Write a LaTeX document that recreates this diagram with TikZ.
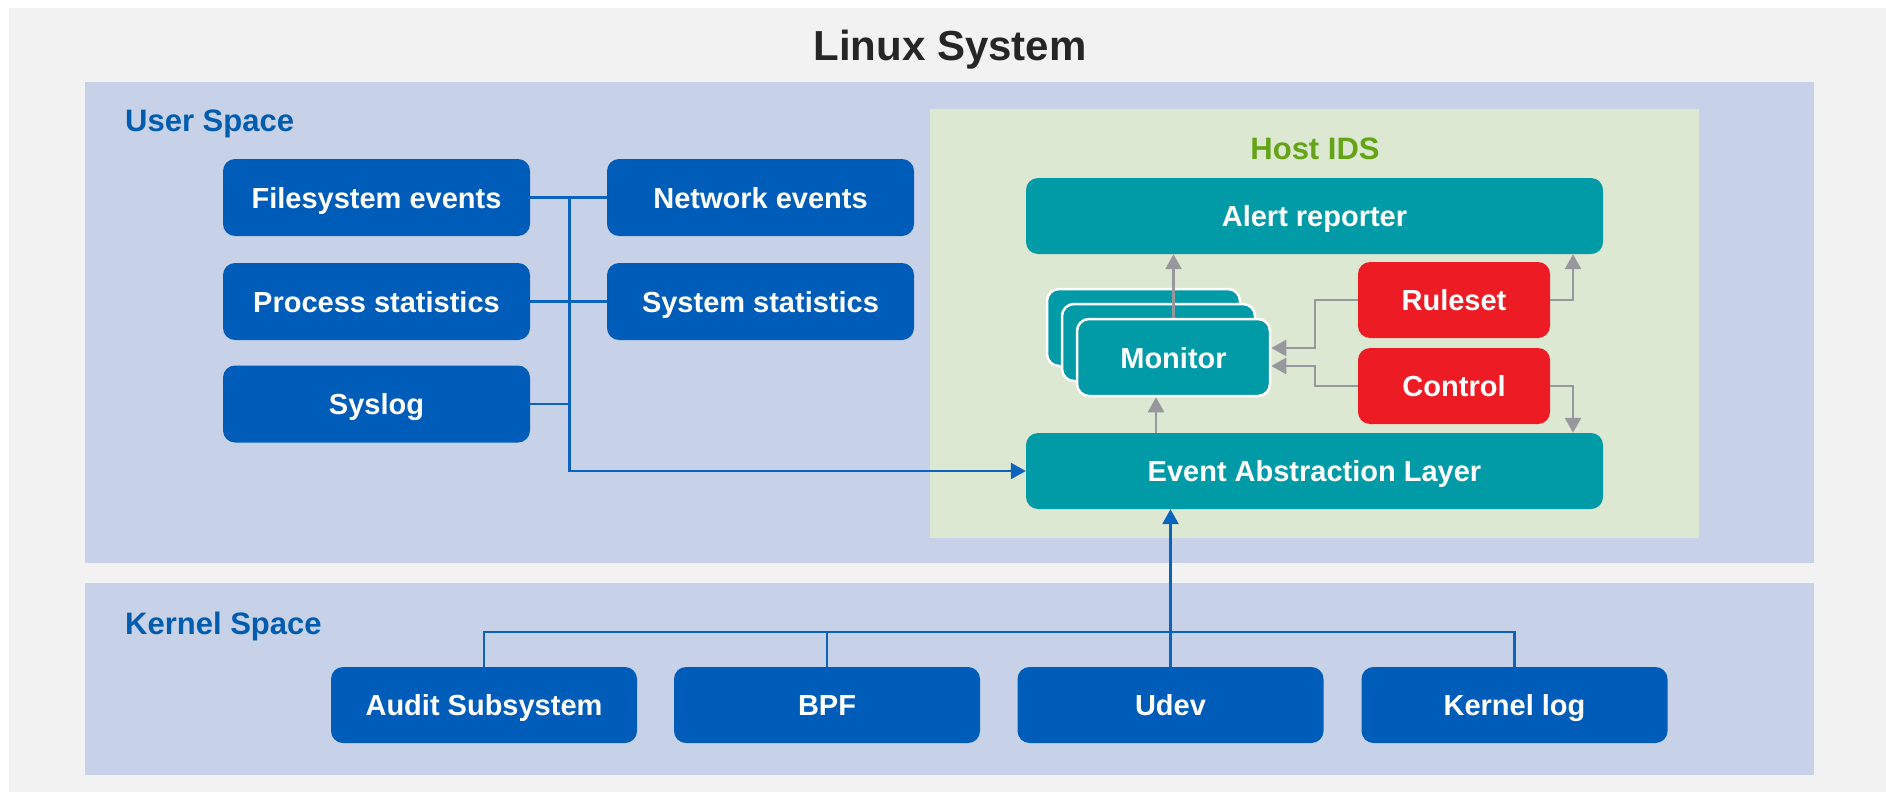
\documentclass[tikz,border=0pt]{standalone}
\usepackage{fontspec}
\setmainfont{Liberation Sans}
\usetikzlibrary{arrows.meta}
\definecolor{bggrey}{RGB}{242,242,242}
\definecolor{spaceblue}{RGB}{199,210,232}
\definecolor{idsgreen}{RGB}{221,232,210}
\definecolor{boxblue}{RGB}{0,92,185}
\definecolor{lineblue}{RGB}{10,100,190}
\definecolor{labelblue}{RGB}{0,92,175}
\definecolor{tealbox}{RGB}{0,155,166}
\definecolor{redbox}{RGB}{237,28,36}
\definecolor{arrowgrey}{RGB}{150,152,158}
\definecolor{titlegrey}{RGB}{38,38,38}
\definecolor{hostgreen}{RGB}{100,164,22}
\tikzset{
  boxbase/.style={rectangle, rounded corners=12pt, text=white, inner sep=0pt,
    text height=21pt, text depth=0pt,
    font=\fontsize{29}{34}\selectfont\bfseries},
  bluebox/.style={boxbase, fill=boxblue, minimum width=307pt, minimum height=77pt},
  kbox/.style={boxbase, fill=boxblue, minimum width=306pt, minimum height=76pt},
  tealwide/.style={boxbase, fill=tealbox, minimum width=577pt, minimum height=76pt},
  redsmall/.style={boxbase, fill=redbox, minimum width=192pt, minimum height=76pt},
  monbox/.style={boxbase, fill=tealbox, draw=white, line width=2.5pt, minimum width=193pt, minimum height=77pt},
  spacelabel/.style={anchor=base west, text=labelblue, inner sep=0pt,
    font=\fontsize{31}{36}\selectfont\bfseries},
  bline/.style={draw=lineblue, line width=2.5pt},
  barrow/.style={bline, -{Triangle[length=15pt,width=16pt]}},
  garrow/.style={draw=arrowgrey, line width=2.5pt, -{Triangle[length=15pt,width=16pt]}}
}
\begin{document}
\begin{tikzpicture}[x=1pt,y=-1pt]
\useasboundingbox (0,0) rectangle (1886,792);
\fill[white] (0,0) rectangle (1886,792);
\fill[bggrey] (9,8) rectangle (1886,792);
\fill[spaceblue] (85,82) rectangle (1814,563);
\fill[spaceblue] (85,583) rectangle (1814,775);
\fill[idsgreen] (930,109) rectangle (1699,538);

\node[anchor=base, text=titlegrey, inner sep=0pt, font=\fontsize{42}{48}\selectfont\bfseries] (title) at (950,60) {Linux System};
\node[spacelabel] (userlbl) at (125,131) {User Space};
\node[spacelabel] (kernlbl) at (125,634) {Kernel Space};
\node[anchor=base, text=hostgreen, inner sep=0pt, font=\fontsize{31}{36}\selectfont\bfseries] (hostlbl) at (1315,159) {Host IDS};

% user space sources
\node[bluebox] (fs) at (376.5,197.5) {Filesystem events};
\node[bluebox] (net) at (760.5,197.5) {Network events};
\node[bluebox] (proc) at (376.5,301.5) {Process statistics};
\node[bluebox] (sys) at (760.5,301.5) {System statistics};
\node[bluebox] (syslog) at (376.5,404) {Syslog};

% host IDS
\node[tealwide] (alert) at (1314.5,216) {Alert reporter};
\node[tealwide] (eal) at (1314.5,471) {Event Abstraction Layer};
\node[redsmall] (rule) at (1454,300) {Ruleset};
\node[redsmall] (ctrl) at (1454,386) {Control};
\node[monbox] (monback) at (1143.5,327.5) {};
\node[monbox] (monmid) at (1158.5,342.5) {};
\node[monbox] (mon) at (1173.5,357.5) {Monitor};

% kernel space sources
\node[kbox] (audit) at (484,705) {Audit Subsystem};
\node[kbox] (bpf) at (827,705) {BPF};
\node[kbox] (udev) at (1170.5,705) {Udev};
\node[kbox] (klog) at (1514.5,705) {Kernel log};

% user space bus
\coordinate (busx) at (569.5,0);
\draw[bline] (fs.east) -- (net.west);
\draw[bline] (proc.east) -- (sys.west);
\draw[bline] (syslog.east) -- (syslog.east -| busx);
\draw[barrow] (fs.east -| busx) -- (eal.west -| busx) -- (eal.west);

% kernel bus
\coordinate (kbus) at (0,632);
\draw[bline] (audit.north) -- (audit.north |- kbus) -- (klog.north |- kbus) -- (klog.north);
\draw[bline] (bpf.north) -- (bpf.north |- kbus);
\draw[barrow] (udev.north) -- (udev.north |- eal.south);

% grey internal arrows
\coordinate (rx) at (1573,0);
\coordinate (lx) at (1315,0);
\draw[garrow] (mon.north) -- (mon.north |- alert.south);
\draw[garrow] ([xshift=-17.5pt]mon.south |- eal.north) -- ([xshift=-17.5pt]mon.south);
\draw[garrow] (rule.west) -- (rule.west -| lx) -- ([yshift=9.5pt]mon.east -| lx) -- ([yshift=9.5pt]mon.east);
\draw[garrow] (ctrl.west) -- (ctrl.west -| lx) -- ([yshift=-8.5pt]mon.east -| lx) -- ([yshift=-8.5pt]mon.east);
\draw[garrow] (rule.east) -- (rule.east -| rx) -- (alert.south -| rx);
\draw[garrow] (ctrl.east) -- (ctrl.east -| rx) -- (eal.north -| rx);
\end{tikzpicture}
\end{document}
